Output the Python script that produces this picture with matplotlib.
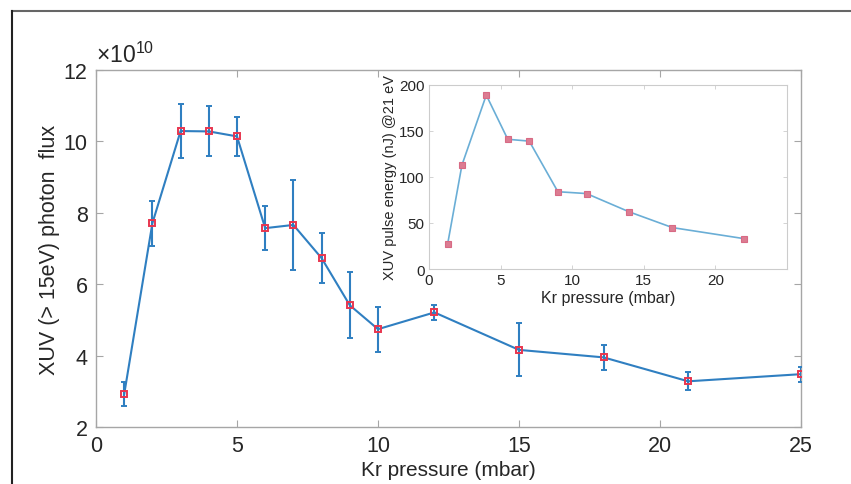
import matplotlib.pyplot as plt
from matplotlib.lines import Line2D

plt.rcParams['font.family'] = ['Liberation Sans', 'DejaVu Sans']
plt.rcParams['mathtext.fontset'] = 'custom'
plt.rcParams['mathtext.rm'] = 'Liberation Sans'
plt.rcParams['mathtext.it'] = 'Liberation Sans'

# main data: photon flux in units of 1e10
pressure = [1, 2, 3, 4, 5, 6, 7, 8, 9, 10, 12, 15, 18, 21, 25]
flux = [2.92, 7.71, 10.29, 10.28, 10.14, 7.57, 7.66, 6.73, 5.41, 4.74, 5.21, 4.16, 3.95, 3.28, 3.48]
flux_hi = [3.25, 8.33, 11.05, 11.0, 10.68, 8.19, 8.92, 7.43, 6.35, 5.36, 5.43, 4.9, 4.3, 3.53, 3.68]
flux_lo = [2.6, 7.08, 9.53, 9.58, 9.6, 6.95, 6.41, 6.04, 4.48, 4.11, 5.0, 3.42, 3.6, 3.04, 3.26]

# inset data
pressure_in = [1.3, 2.3, 4.0, 5.5, 7.0, 9.0, 11.0, 14.0, 17.0, 22.0]
energy_in = [27, 113, 189, 141, 139, 84, 82, 62, 45, 33]

txt = '#262626'
spine = '#a6a6a6'
blue = '#2f7fc1'

fig = plt.figure(figsize=(8.51, 4.85), dpi=100)

# outer frame (only top and left edges are visible in the crop)
fig.add_artist(Line2D([12/851, 1], [1-12/485, 1-12/485], color='#666666', lw=1.5))
fig.add_artist(Line2D([12/851, 12/851], [0, 1-12/485], color='#222222', lw=1.5))

ax = fig.add_axes([96/851, 1-428/485, 705/851, 357/485])
yerr = [[f - l for f, l in zip(flux, flux_lo)], [h - f for f, h in zip(flux, flux_hi)]]
ax.errorbar(pressure, flux, yerr=yerr, color=blue, lw=1.5, elinewidth=1.5,
            capsize=2, capthick=1.2, marker='s', ms=5, mfc='none',
            mec='#e8364f', mew=1.4, zorder=3)
ax.set_xlim(0, 25)
ax.set_ylim(2, 12)
ax.set_xticks([0, 5, 10, 15, 20, 25])
ax.set_yticks([2, 4, 6, 8, 10, 12])
ax.tick_params(direction='in', top=True, right=True, length=5, width=0.8,
               color=spine, labelcolor=txt, labelsize=15.5, pad=6)
for s in ax.spines.values():
    s.set_color(spine)
    s.set_linewidth(1.0)
ax.set_xlabel('Kr pressure (mbar)', fontsize=15, color=txt, labelpad=3)
ax.set_ylabel('XUV (> 15eV) photon  flux', fontsize=15.5, color=txt, labelpad=3)
ax.text(0.0, 1.01, r'$\times 10^{10}$', transform=ax.transAxes, fontsize=16.5,
        color=txt, ha='left', va='bottom')

# inset
axi = fig.add_axes([429/851, 1-270/485, 358/851, 184/485])
axi.plot(pressure_in, energy_in, color='#6aaed6', lw=1.2, marker='s', ms=4,
         mfc='#dc7c92', mec='#d86a84', mew=0.8)
axi.set_xlim(0, 25)
axi.set_ylim(0, 200)
axi.set_xticks([0, 5, 10, 15, 20])
axi.set_yticks([0, 50, 100, 150, 200])
axi.tick_params(direction='in', top=True, right=True, length=3, width=0.6,
                color='#cccccc', labelcolor=txt, labelsize=11, pad=3)
for s in axi.spines.values():
    s.set_color('#cccccc')
    s.set_linewidth(0.8)
axi.set_xlabel('Kr pressure (mbar)', fontsize=11.5, color=txt, labelpad=2)
axi.set_ylabel('XUV pulse energy (nJ) @21 eV', fontsize=10.5, color=txt, labelpad=2)

fig.savefig('out.png', dpi=100)
